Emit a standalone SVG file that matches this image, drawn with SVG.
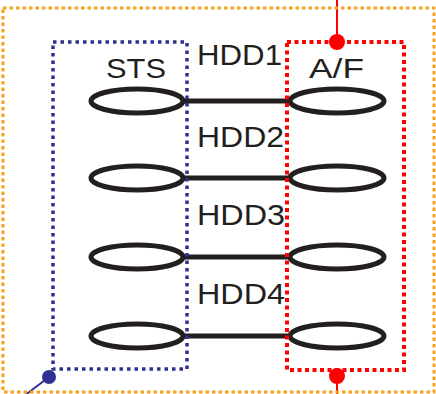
<svg xmlns="http://www.w3.org/2000/svg" width="436" height="394" viewBox="0 0 436 394">
  <style>
    .disk { fill: none; stroke: #231f20; stroke-width: 5; }
    .link { stroke: #231f20; stroke-width: 5; }
    .lbl { font-family: "Liberation Sans", Arial, sans-serif; fill: #231f20; }
    .hdd { font-size: 29px; }
    .side { font-size: 27px; }
    .frame { fill: none; stroke: #f9a11b; stroke-width: 3; stroke-dasharray: 3.5 3; }
    .sts { fill: none; stroke: #2e3192; stroke-width: 3.5; stroke-dasharray: 3.5 4; }
    .af { fill: none; stroke: #ff0000; stroke-width: 4; stroke-dasharray: 4 3.5; }
  </style>
  <rect width="436" height="394" fill="#ffffff"/>

  <!-- links between the STS and A/F disks -->
  <g id="connectors">
    <line class="link" x1="183" y1="101" x2="291" y2="101"/>
    <line class="link" x1="183" y1="178" x2="291" y2="178"/>
    <line class="link" x1="183" y1="257" x2="291" y2="257"/>
    <line class="link" x1="183" y1="336" x2="291" y2="336"/>
    <line x1="337" y1="0" x2="337" y2="42" stroke="#ff0000" stroke-width="2"/>
    <line x1="337" y1="376" x2="337" y2="394" stroke="#ff0000" stroke-width="2"/>
    <line x1="49" y1="377" x2="24" y2="396" stroke="#2e3192" stroke-width="2"/>
  </g>

  <g id="sts-disks">
    <ellipse class="disk" cx="137" cy="101" rx="46" ry="12"/>
    <ellipse class="disk" cx="137" cy="178" rx="46" ry="12"/>
    <ellipse class="disk" cx="137" cy="257" rx="46" ry="12"/>
    <ellipse class="disk" cx="137" cy="336" rx="46" ry="12"/>
  </g>
  <g id="af-disks">
    <ellipse class="disk" cx="337" cy="101" rx="47" ry="12"/>
    <ellipse class="disk" cx="337" cy="178" rx="47" ry="12"/>
    <ellipse class="disk" cx="337" cy="257" rx="47" ry="12"/>
    <ellipse class="disk" cx="337" cy="336" rx="47" ry="12"/>
  </g>

  <g id="labels">
    <text class="lbl side" x="106" y="78" textLength="60" lengthAdjust="spacingAndGlyphs">STS</text>
    <text class="lbl side" x="309" y="78" textLength="55" lengthAdjust="spacingAndGlyphs">A/F</text>
    <text class="lbl hdd" x="197" y="65" textLength="85" lengthAdjust="spacingAndGlyphs">HDD1</text>
    <text class="lbl hdd" x="197" y="147" textLength="87" lengthAdjust="spacingAndGlyphs">HDD2</text>
    <text class="lbl hdd" x="197" y="225" textLength="88" lengthAdjust="spacingAndGlyphs">HDD3</text>
    <text class="lbl hdd" x="197" y="304" textLength="88" lengthAdjust="spacingAndGlyphs">HDD4</text>
  </g>

  <g id="outer-frame">
    <rect class="frame" x="3" y="8" width="431" height="384"/>
  </g>
  <g id="sts-group">
    <rect class="sts" x="53" y="42" width="134" height="327"/>
    <circle cx="49" cy="377" r="7" fill="#2e3192"/>
  </g>
  <g id="af-group">
    <rect class="af" x="287" y="42" width="117" height="328"/>
    <circle cx="337" cy="42" r="8" fill="#ff0000"/>
    <circle cx="337" cy="376" r="8" fill="#ff0000"/>
  </g>
</svg>
